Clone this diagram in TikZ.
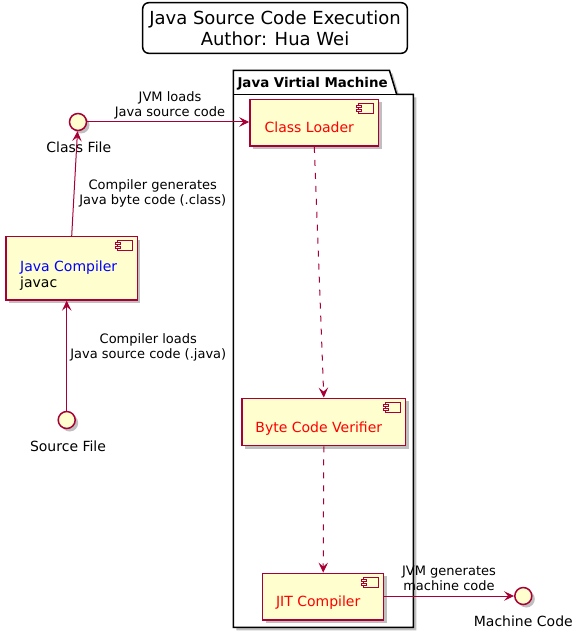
\documentclass[tikz,border=0pt]{standalone}
\usepackage{fontspec}
\setmainfont{DejaVu Sans}
\usetikzlibrary{shadows,arrows.meta,calc}
\definecolor{pborder}{HTML}{A80036}
\definecolor{pfill}{HTML}{FEFECE}
\newcommand\compicon[1]{%
  \begin{scope}[shift={(#1.north east)}]
    \draw[iconst] (-21,5) rectangle (-6,15);
    \draw[iconst] (-23,7) rectangle (-18,9);
    \draw[iconst] (-23,11) rectangle (-18,13);
  \end{scope}}
\begin{document}
\begin{tikzpicture}[x=1pt,y=-1pt,
  shad/.style={drop shadow={shadow xshift=3pt,shadow yshift=-3pt,fill=black,opacity=.25}},
  comp/.style={rectangle,draw=pborder,fill=pfill,line width=1.5pt,inner sep=0pt,shad,
    font=\fontsize{14}{16}\selectfont,text=red,text height=22pt,text depth=1.5pt,
    execute at end node=\kern10pt},
  iconst/.style={draw=pborder,fill=pfill,line width=1pt},
  iface/.style={circle,draw=pborder,fill=pfill,line width=1.5pt,minimum size=17pt,inner sep=0pt,shad},
  ilbl/.style={font=\fontsize{14}{16}\selectfont,inner sep=0pt},
  lbl/.style={font=\fontsize{13}{15}\selectfont,align=center,inner sep=0pt},
  arr/.style={draw=pborder,line width=1pt,-{Stealth[length=10pt,width=9.5pt,inset=4pt]}},
  darr/.style={arr,dash pattern=on 6pt off 7pt}]
\useasboundingbox (0,0) rectangle (584,639);

% title
\node[draw,rounded corners=6pt,line width=1.5pt,minimum width=264.6pt,minimum height=50.6pt,
  align=center,inner sep=0pt,font=\fontsize{18}{21}\selectfont] (title) at (275,28)
  {Java Source Code Execution\\Author: Hua Wei};

% package
\draw[line width=1.5pt,fill=white,shad] (233.3,70.5) -- (389.5,70.5) -- (396.7,94.5) -- (413.3,94.5)
  -- (413.3,627.3) -- (233.3,627.3) -- cycle;
\draw[line width=1.5pt] (233.3,94.5) -- (396.7,94.5);
\node[anchor=base west,inner sep=0pt,font=\fontsize{13.4}{16}\selectfont\bfseries] (pkg) at (237.3,87.5) {Java Virtial Machine};

% components
\node[comp,minimum width=128.7pt,minimum height=46.7pt] (cl) at (314.3,122.7) {Class Loader};
\compicon{cl}
\node[comp,minimum width=163.7pt,minimum height=47.4pt] (bcv) at (323.8,422) {Byte Code Verifier};
\compicon{bcv}
\node[comp,minimum width=121pt,minimum height=46.7pt] (jit) at (323.2,596.7) {JIT Compiler};
\compicon{jit}
\node[rectangle,draw=pborder,fill=pfill,line width=1.5pt,inner sep=0pt,shad,
  minimum width=131.3pt,minimum height=63.3pt] (jc) at (71.7,268.3) {};
\compicon{jc}
\node[anchor=north west,inner sep=0pt,align=left,font=\fontsize{14}{16.6}\selectfont] (jct) at (20,260.4)
  {\textcolor{blue}{Java Compiler}\\javac};

% interfaces
\node[iface] (cf) at (78,122) {};
\node[ilbl] (cfl) at (78.8,147.7) {Class File};
\node[iface] (sf) at (66.7,420) {};
\node[ilbl] (sfl) at (68,446.7) {Source File};
\node[iface] (mc) at (523.3,596) {};
\node[ilbl] (mcl) at (523.3,621.7) {Machine Code};

% connectors
\draw[arr] (cf) -- (cl.west |- cf);
\node[lbl] (l1) at (170,105) {JVM loads\\Java source code};
\draw[arr] (jc.north) -- (cf);
\node[lbl] (l2) at (152.8,193) {Compiler generates\\Java byte code (.class)};
\draw[arr] (sf) -- (jc.south -| sf);
\node[lbl] (l3) at (148.3,347.5) {Compiler loads\\Java source code (.java)};
\draw[darr] (cl.south) -- (bcv.north);
\draw[darr] (bcv.south) -- (jit.north);
\draw[arr] (jit.east |- mc) -- (mc);
\node[lbl] (l4) at (449,578.5) {JVM generates\\machine code};
\end{tikzpicture}
\end{document}
